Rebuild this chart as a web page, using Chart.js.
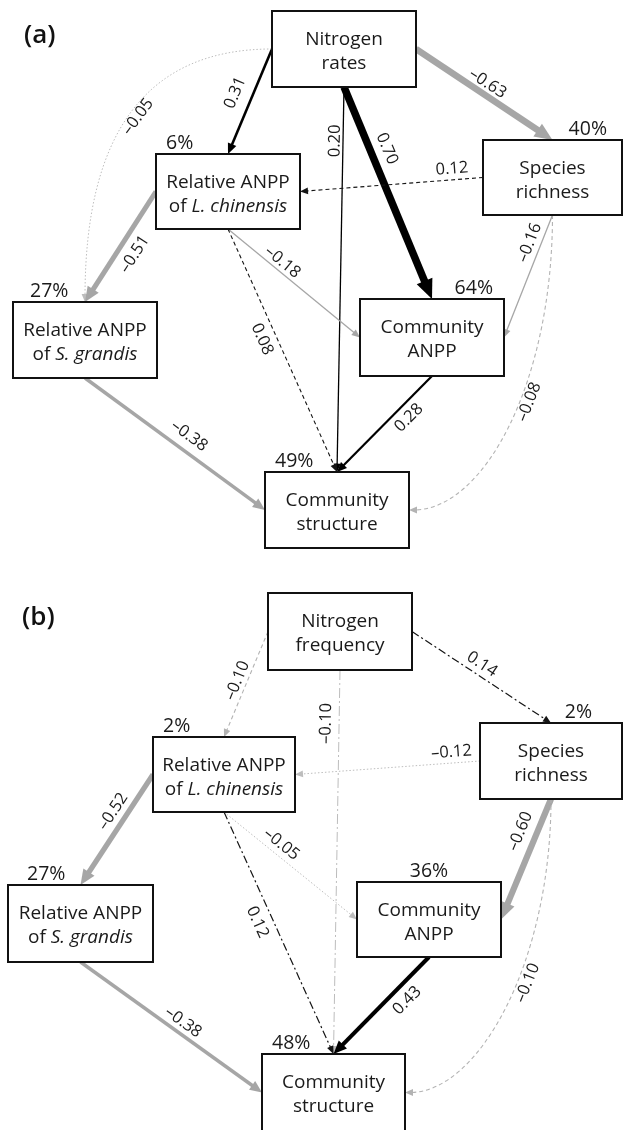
<!DOCTYPE html>
<html>
<head>
<meta charset="utf-8">
<script src="https://cdn.jsdelivr.net/npm/chart.js@4.4.0/dist/chart.umd.min.js"></script>
<style>
  html, body { margin: 0; padding: 0; background: #fff; }
  #wrap { width: 623px; height: 1130px; position: relative; }
</style>
</head>
<body>
<div id="wrap"><canvas id="sem"></canvas></div>
<script>
// ---------- Model (a): nitrogen addition rates ----------
const variablesA = ['Nitrogen\nrates', 'Relative ANPP\nof *L. chinensis*', 'Relative ANPP\nof *S. grandis*',
                    'Species\nrichness', 'Community\nANPP', 'Community\nstructure'];
const explainedA = [null, 6, 27, 40, 64, 49];          // R² (%)
const pathFromA  = [0, 0, 0, 0, 0, 3, 1, 1, 1, 3, 3, 2, 4];
const pathToA    = [1, 2, 3, 4, 5, 1, 2, 4, 5, 4, 5, 5, 5];
const coefA      = [0.31, -0.05, -0.63, 0.70, 0.20, 0.12, -0.51, -0.18, 0.08, -0.16, -0.08, -0.38, 0.28];
const signifA    = [true, false, true, true, true, false, true, true, false, true, false, true, true];

// ---------- Model (b): nitrogen addition frequency ----------
const variablesB = ['Nitrogen\nfrequency', 'Relative ANPP\nof *L. chinensis*', 'Relative ANPP\nof *S. grandis*',
                    'Species\nrichness', 'Community\nANPP', 'Community\nstructure'];
const explainedB = [null, 2, 27, 2, 36, 48];
const pathFromB  = [0, 0, 0, 3, 1, 1, 1, 3, 3, 2, 4];
const pathToB    = [1, 3, 5, 1, 2, 4, 5, 4, 5, 5, 5];
const coefB      = [-0.10, 0.14, -0.10, -0.12, -0.52, -0.05, 0.12, -0.60, -0.10, -0.38, 0.43];
const signifB    = [false, false, false, false, true, false, false, true, false, true, true];

// ---------- Diagram layout (axis units) ----------
const LINE_STYLES = {
  dashDark:     { color: '#151515', dash: [4, 3],        w: 1.1 },
  dotLight:     { color: '#bdbdbd', dash: [1.5, 2],      w: 1.0 },
  dashLight:    { color: '#b3b3b3', dash: [4, 3],        w: 1.1 },
  dashDotDark:  { color: '#151515', dash: [8, 3, 2, 3],  w: 1.2 },
  dashDotLight: { color: '#bcbcbc', dash: [10, 3, 2, 3], w: 1.0 }
};

const panels = [
  {
    title: { text: '(a)', x: 24, y: 43 },
    names: variablesA, r2: explainedA, from: pathFromA, to: pathToA, coef: coefA, sig: signifA,
    boxes: [[272, 11, 416, 87], [156, 154, 300, 229], [13, 302, 157, 378],
            [483, 140, 622, 215], [360, 299, 504, 376], [265, 472, 409, 548]],
    r2Place: [null, { align: 'left', dx: 10 }, { align: 'left', dx: 17 }, { align: 'right', dx: -15 },
              { align: 'right', dx: -11 }, { align: 'left', dx: 10 }],
    edges: [
      { s: 'left',   e: 'top',   t: 0.48, n: 17 },
      { s: 'left',   e: 'top',   curve: 'hv', a: 0.67, b: 0.67, t: 0.5, n: -8, style: 'dotLight' },
      { s: 'right',  e: 'top',   t: 0.48, n: 11 },
      { s: 'bottom', e: 'top',   t: 0.32, n: 16 },
      { s: 'bottom', e: 'top',   t: 0.14, n: 8 },
      { s: 'left',   e: 'right', t: 0.165, n: 11, style: 'dashDark' },
      { s: 'left',   e: 'top',   t: 0.49, n: -16 },
      { s: 'bottom', e: 'left',  t: 0.37, n: 9 },
      { s: 'bottom', e: 'top',   t: 0.43, n: -14, style: 'dashDark' },
      { s: 'bottom', e: 'right', t: 0.26, n: 11 },
      { s: 'bottom', e: 'right', curve: 'vh', a: 0.57, b: 0.52, t: 0.42, n: -9, style: 'dashLight' },
      { s: 'bottom', e: 'left',  t: 0.53, n: 15 },
      { s: 'bottom', e: 'top',   t: 0.34, n: -13 }
    ]
  },
  {
    title: { text: '(b)', x: 22, y: 625 },
    names: variablesB, r2: explainedB, from: pathFromB, to: pathToB, coef: coefB, sig: signifB,
    boxes: [[268, 593, 412, 670], [153, 737, 295, 812], [8, 885, 153, 962],
            [480, 723, 622, 799], [357, 882, 501, 957], [262, 1054, 405, 1131]],
    r2Place: [null, { align: 'left', dx: 10 }, { align: 'left', dx: 19 }, { align: 'right', dx: -30 },
              { align: 'center', dx: 0 }, { align: 'left', dx: 10 }],
    edges: [
      { s: 'left',   e: 'top',   t: 0.5,  n: 9.5, style: 'dashLight' },
      { s: 'right',  e: 'top',   t: 0.46, n: 11,  style: 'dashDotDark' },
      { s: 'bottom', e: 'top',   t: 0.14, n: 13,  style: 'dashDotLight' },
      { s: 'left',   e: 'right', t: 0.15, n: 11,  style: 'dotLight' },
      { s: 'left',   e: 'top',   t: 0.40, n: 13 },
      { s: 'bottom', e: 'left',  t: 0.38, n: 11,  style: 'dotLight' },
      { s: 'bottom', e: 'top',   t: 0.43, n: -15, style: 'dashDotDark' },
      { s: 'bottom', e: 'right', t: 0.32, n: 16 },
      { s: 'bottom', e: 'right', curve: 'vh', a: 0.55, b: 0.51, t: 0.42, n: -10, style: 'dashLight' },
      { s: 'bottom', e: 'left',  t: 0.53, n: 11 },
      { s: 'bottom', e: 'top',   t: 0.34, n: -15 }
    ]
  }
];

const FONT = '"Open Sans", "Noto Sans", sans-serif';

// ---------- helpers ----------
function fmtCoef(c) {
  return (c < 0 ? '\u2013' : '') + Math.abs(c).toFixed(2);
}
function sigWidth(c) {
  return Math.max(1.3, 12.5 * Math.abs(c) - 1.3);
}
function anchor(b, side) {
  const cx = (b[0] + b[2]) / 2, cy = (b[1] + b[3]) / 2;
  if (side === 'top') return [cx, b[1]];
  if (side === 'bottom') return [cx, b[3]];
  if (side === 'left') return [b[0], cy];
  return [b[2], cy];
}
function bezPt(p0, c1, c2, p3, t) {
  const m = 1 - t;
  return [0, 1].map(k => m * m * m * p0[k] + 3 * m * m * t * c1[k] + 3 * m * t * t * c2[k] + t * t * t * p3[k]);
}
function bezTan(p0, c1, c2, p3, t) {
  const m = 1 - t;
  return [0, 1].map(k => 3 * m * m * (c1[k] - p0[k]) + 6 * m * t * (c2[k] - c1[k]) + 3 * t * t * (p3[k] - c2[k]));
}
function segments(line) {
  return line.split('*').map((t, i) => ({ t, italic: i % 2 === 1 })).filter(s => s.t.length);
}

const semPlugin = {
  id: 'semPaths',
  afterDatasetsDraw(chart) {
    const { ctx } = chart;
    const sx = chart.scales.x, sy = chart.scales.y;
    const P = (v) => [sx.getPixelForValue(v[0]), sy.getPixelForValue(v[1])];
    const unit = Math.abs(sx.getPixelForValue(1) - sx.getPixelForValue(0));

    panels.forEach(panel => {
      const boxesPx = panel.boxes.map(b => {
        const a = P([b[0], b[1]]), c = P([b[2], b[3]]);
        return [a[0], a[1], c[0], c[1]];
      });

      // --- paths ---
      const labels = [];
      panel.coef.forEach((c, i) => {
        const g = panel.edges[i];
        const p0 = anchor(boxesPx[panel.from[i]], g.s);
        const p3 = anchor(boxesPx[panel.to[i]], g.e);
        let style;
        if (panel.sig[i]) {
          style = { color: c > 0 ? '#000' : '#a6a6a6', dash: [], w: sigWidth(c) * unit };
        } else {
          const st = LINE_STYLES[g.style];
          style = { color: st.color, dash: st.dash, w: st.w * unit };
        }
        const w = style.w;
        const headL = (panel.sig[i] ? 6 + 1.8 * w : 8);
        const headH = (panel.sig[i] ? 2.5 + 0.8 * w : 3.4);

        let c1, c2, endDir;
        if (g.curve) {
          const K = g.curve === 'hv' ? [p3[0], p0[1]] : [p0[0], p3[1]];
          c1 = [p0[0] + g.a * (K[0] - p0[0]), p0[1] + g.a * (K[1] - p0[1])];
          c2 = [p3[0] + g.b * (K[0] - p3[0]), p3[1] + g.b * (K[1] - p3[1])];
          const d = bezTan(p0, c1, c2, p3, 1);
          const len = Math.hypot(d[0], d[1]);
          endDir = [d[0] / len, d[1] / len];
        } else {
          const dx = p3[0] - p0[0], dy = p3[1] - p0[1], len = Math.hypot(dx, dy);
          endDir = [dx / len, dy / len];
        }

        ctx.save();
        ctx.strokeStyle = style.color;
        ctx.lineWidth = w;
        ctx.setLineDash(style.dash);
        ctx.lineCap = 'butt';
        ctx.beginPath();
        ctx.moveTo(p0[0], p0[1]);
        if (g.curve) {
          ctx.bezierCurveTo(c1[0], c1[1], c2[0], c2[1], p3[0] - endDir[0] * headL * 0.6, p3[1] - endDir[1] * headL * 0.6);
        } else {
          ctx.lineTo(p3[0] - endDir[0] * headL * 0.7, p3[1] - endDir[1] * headL * 0.7);
        }
        ctx.stroke();
        ctx.setLineDash([]);
        // arrow head
        const bx = p3[0] - endDir[0] * headL, by = p3[1] - endDir[1] * headL;
        const nx = -endDir[1], ny = endDir[0];
        ctx.fillStyle = style.color;
        ctx.beginPath();
        ctx.moveTo(p3[0], p3[1]);
        ctx.lineTo(bx + nx * headH, by + ny * headH);
        ctx.lineTo(bx - nx * headH, by - ny * headH);
        ctx.closePath();
        ctx.fill();
        ctx.restore();

        // label placement along the path
        let pt, tan;
        if (g.curve) {
          pt = bezPt(p0, c1, c2, p3, g.t);
          tan = bezTan(p0, c1, c2, p3, g.t);
        } else {
          pt = [p0[0] + (p3[0] - p0[0]) * g.t, p0[1] + (p3[1] - p0[1]) * g.t];
          tan = [p3[0] - p0[0], p3[1] - p0[1]];
        }
        let ang = Math.atan2(tan[1], tan[0]);
        if (ang > Math.PI / 2) ang -= Math.PI;
        if (ang < -Math.PI / 2) ang += Math.PI;
        const up = [Math.sin(ang), -Math.cos(ang)];
        labels.push({ x: pt[0] + up[0] * g.n * unit, y: pt[1] + up[1] * g.n * unit, ang, text: fmtCoef(c) });
      });

      // --- boxes ---
      boxesPx.forEach((b, i) => {
        ctx.save();
        ctx.fillStyle = '#fff';
        ctx.fillRect(b[0], b[1], b[2] - b[0], b[3] - b[1]);
        ctx.strokeStyle = '#111';
        ctx.lineWidth = 2;
        ctx.strokeRect(b[0], b[1], b[2] - b[0], b[3] - b[1]);

        const lines = panel.names[i].split('\n');
        const cx = (b[0] + b[2]) / 2, cy = (Math.min(b[3], sy.getPixelForValue(panel.boxes[i][1] + 76)) + b[1]) / 2;
        ctx.fillStyle = '#1a1a1a';
        ctx.textBaseline = 'alphabetic';
        ctx.textAlign = 'left';
        lines.forEach((ln, k) => {
          const segs = segments(ln);
          let total = 0;
          segs.forEach(s => {
            ctx.font = (s.italic ? 'italic ' : '') + '19px ' + FONT;
            s.w = ctx.measureText(s.t).width;
            total += s.w;
          });
          let x = cx - total / 2;
          const base = cy + 8 + (k - (lines.length - 1) / 2) * 24;
          segs.forEach(s => {
            ctx.font = (s.italic ? 'italic ' : '') + '19px ' + FONT;
            ctx.fillText(s.t, x, base);
            x += s.w;
          });
        });

        // explained variance
        const r = panel.r2[i];
        if (r !== null) {
          const pl = panel.r2Place[i];
          ctx.font = '19.5px ' + FONT;
          ctx.textAlign = pl.align;
          const ax = pl.align === 'left' ? b[0] : pl.align === 'right' ? b[2] : cx;
          ctx.fillText(r + '%', ax + pl.dx, b[1] - 5);
        }
        ctx.restore();
      });

      // --- coefficient labels ---
      labels.forEach(l => {
        ctx.save();
        ctx.translate(l.x, l.y);
        ctx.rotate(l.ang);
        ctx.font = '16.5px ' + FONT;
        ctx.fillStyle = '#1a1a1a';
        ctx.textAlign = 'center';
        ctx.textBaseline = 'middle';
        ctx.fillText(l.text, 0, 0);
        ctx.restore();
      });

      // --- panel tag ---
      ctx.save();
      ctx.font = '600 26px ' + FONT;
      ctx.fillStyle = '#111';
      ctx.textAlign = 'left';
      ctx.textBaseline = 'alphabetic';
      const tp = P([panel.title.x, panel.title.y]);
      ctx.fillText(panel.title.text, tp[0], tp[1]);
      ctx.restore();
    });
  }
};

// node centres, used as the (invisible) dataset
const nodePoints = panels.flatMap(p => p.boxes.map(b => ({ x: (b[0] + b[2]) / 2, y: (b[1] + b[3]) / 2 })));

new Chart(document.getElementById('sem'), {
  type: 'scatter',
  data: { datasets: [{ data: nodePoints, pointRadius: 0, pointHoverRadius: 0 }] },
  options: {
    responsive: true,
    maintainAspectRatio: false,
    animation: false,
    events: [],
    layout: { padding: 0 },
    plugins: { legend: { display: false }, tooltip: { enabled: false } },
    scales: {
      x: { type: 'linear', min: 0, max: 623, display: false },
      y: { type: 'linear', min: 0, max: 1130, reverse: true, display: false }
    }
  },
  plugins: [semPlugin]
});
</script>
</body>
</html>
